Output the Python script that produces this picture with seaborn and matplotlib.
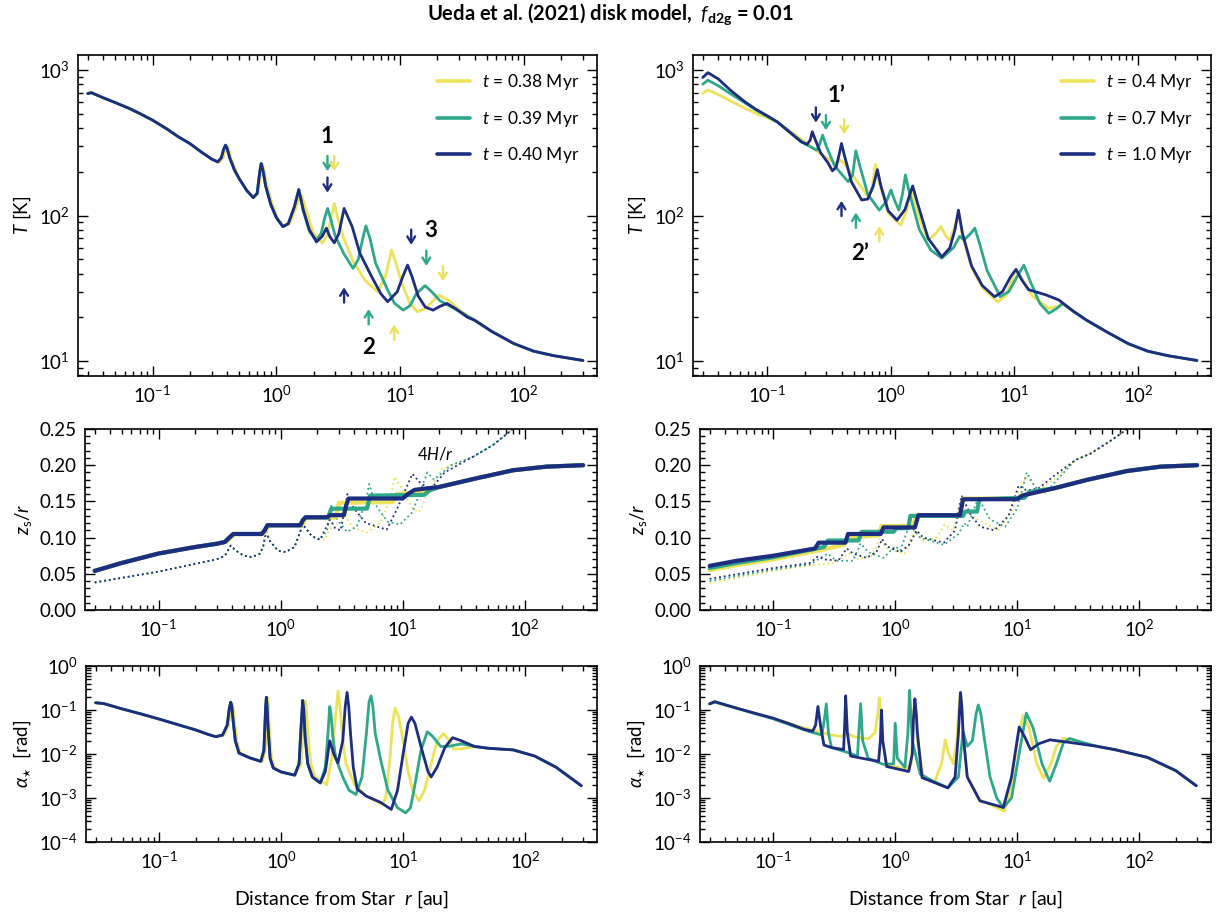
import matplotlib
matplotlib.use("Agg")
import numpy as np
import pandas as pd
import matplotlib.pyplot as plt
import seaborn as sns
from matplotlib.ticker import LogLocator, MultipleLocator, NullFormatter, FormatStrFormatter
from matplotlib.lines import Line2D
from matplotlib.transforms import offset_copy

# ---------------- data ----------------
LEG_LEFT = ["$t$ = 0.38 Myr", "$t$ = 0.39 Myr", "$t$ = 0.40 Myr"]
LEG_RIGHT = ["$t$ = 0.4 Myr", "$t$ = 0.7 Myr", "$t$ = 1.0 Myr"]

# Top-left: temperature T [K] vs r [au]
TL_START = [(0.030, 690), (0.032, 700), (0.04, 645), (0.05, 598), (0.065, 545), (0.08, 500),
            (0.10, 453), (0.13, 395), (0.16, 350), (0.20, 313), (0.25, 272), (0.30, 245)]
TL_INNER = [(0.336, 234), (0.36, 250), (0.375, 285), (0.389, 305), (0.40, 290), (0.42, 250),
            (0.46, 205), (0.50, 180), (0.58, 148), (0.651, 133), (0.70, 142), (0.735, 200),
            (0.755, 228), (0.78, 205), (0.82, 160), (0.90, 120), (1.00, 97), (1.13, 84),
            (1.25, 88), (1.40, 115), (1.52, 151)]
TL_TAIL = [(40.0, 19.1), (55.0, 16), (83.0, 13.2), (120.0, 11.7), (174.0, 10.9), (300.0, 10.1)]
TL_YEL = [(0.345, 232), (0.37, 248), (0.385, 280), (0.40, 300), (0.415, 285), (0.43, 245),
          (0.47, 205), (0.50, 180), (0.58, 148), (0.66, 133), (0.71, 142), (0.75, 195),
          (0.775, 225), (0.80, 200), (0.84, 160), (0.92, 122), (1.02, 96), (1.15, 84),
          (1.28, 88), (1.42, 110), (1.50, 125), (1.60, 138), (1.75, 108), (2.0, 75),
          (2.36, 64.6), (2.6, 75), (2.8, 100), (2.94, 121), (3.1, 100), (3.5, 70),
          (4.2, 48), (5.2, 36), (6.6, 30), (7.6, 38), (8.53, 58), (9.2, 48), (10.5, 33),
          (12.0, 25), (13.8, 21.8), (16.0, 23), (20.6, 28.4), (25.0, 26), (30.0, 22.5)]
TL_GRN = [(1.65, 108), (1.85, 78), (2.1, 68), (2.3, 75), (2.45, 95), (2.6, 112), (2.75, 95),
          (3.0, 72), (3.5, 55), (4.17, 43.4), (4.6, 50), (5.0, 70), (5.3, 85), (5.7, 70),
          (6.35, 47), (7.94, 30.8), (9.0, 25), (10.6, 22.4), (12.0, 24), (13.5, 29),
          (15.9, 33), (18.0, 30), (21.0, 26), (25.0, 24), (30.0, 22)]
TL_NAV = [(1.65, 110), (1.85, 80), (2.11, 66), (2.35, 72), (2.54, 82), (2.70, 72), (2.94, 65),
          (3.20, 75), (3.53, 112), (4.10, 84), (4.74, 55), (5.90, 38), (7.00, 29), (7.94, 25.6),
          (9.50, 30), (10.5, 38), (11.5, 45.7), (12.5, 38), (14.0, 28), (16.0, 23.5),
          (18.5, 22.4), (21.0, 23.8), (23.9, 24.9), (28.0, 23), (35.0, 20)]

# Top-right: temperature T [K]
TR_TAIL = [(38.0, 19.2), (55.0, 16), (83.0, 13.2), (120.0, 11.7), (174.0, 10.9), (300.0, 10.1)]
TR_YEL = [(0.030, 692), (0.033, 730), (0.04, 680), (0.05, 615), (0.065, 550), (0.08, 505),
          (0.10, 470), (0.12, 441), (0.16, 370), (0.20, 322), (0.25, 280), (0.30, 250),
          (0.36, 228), (0.39, 240), (0.42, 228), (0.50, 185), (0.60, 150), (0.65, 135),
          (0.70, 150), (0.75, 225), (0.80, 170), (0.95, 105), (1.2, 86), (1.35, 110),
          (1.44, 150), (1.6, 110), (2.0, 68), (2.3, 75), (2.54, 84), (2.8, 72), (3.0, 68),
          (3.3, 85), (3.52, 105), (3.8, 72), (4.5, 44), (5.5, 32), (7.3, 25.5), (8.5, 28),
          (9.5, 36), (10.3, 42), (11.5, 37), (14.0, 28), (19.0, 23), (22.0, 23.7),
          (25.0, 24.5), (30.0, 22)]
TR_GRN = [(0.030, 800), (0.033, 853), (0.04, 780), (0.05, 690), (0.065, 600), (0.08, 535),
          (0.10, 480), (0.12, 441), (0.16, 362), (0.20, 312), (0.25, 282), (0.265, 310),
          (0.28, 357), (0.30, 300), (0.35, 220), (0.45, 171), (0.49, 190), (0.52, 279),
          (0.56, 220), (0.65, 140), (0.805, 109), (0.92, 125), (1.00, 150), (1.08, 125),
          (1.16, 109), (1.24, 140), (1.31, 190), (1.42, 140), (1.7, 80), (2.1, 58),
          (2.58, 51), (3.2, 60), (3.6, 72), (3.9, 68), (4.4, 75), (4.78, 82), (5.2, 65),
          (6.0, 42), (7.67, 27.7), (9.0, 30), (10.5, 38), (11.9, 45.7), (13.5, 35),
          (16.0, 25), (19.0, 21.3), (22.0, 23), (24.5, 24.9), (30.0, 22)]
TR_NAV = [(0.030, 890), (0.033, 960), (0.04, 870), (0.05, 730), (0.065, 610), (0.08, 540),
          (0.10, 485), (0.12, 441), (0.16, 360), (0.188, 321), (0.21, 309), (0.222, 330),
          (0.231, 377), (0.245, 330), (0.27, 270), (0.31, 230), (0.336, 203), (0.36, 215),
          (0.38, 260), (0.398, 313), (0.42, 260), (0.48, 170), (0.58, 128), (0.65, 130),
          (0.72, 160), (0.777, 207), (0.83, 160), (0.95, 108), (1.12, 93), (1.30, 110),
          (1.50, 160), (1.65, 120), (2.0, 70), (2.58, 52), (3.0, 60), (3.3, 80), (3.52, 109),
          (3.8, 75), (4.5, 45), (5.5, 33), (6.9, 27.7), (8.0, 30), (9.3, 38), (10.3, 42.7),
          (11.5, 36), (13.0, 31), (14.2, 30.3), (18.0, 28.5), (22.9, 26.3), (30.0, 22)]

# Middle-left: z_s/r (solid) and 4H/r (dotted)
ML_INNER = [(0.030, 0.054), (0.05, 0.065), (0.10, 0.078), (0.20, 0.087), (0.30, 0.0915),
            (0.35, 0.094), (0.38, 0.100), (0.41, 0.105), (0.70, 0.105), (0.74, 0.110),
            (0.78, 0.117), (1.45, 0.117), (1.52, 0.124), (1.60, 0.128)]
ML_OUTER = [(20.0, 0.170), (38.0, 0.181), (80.0, 0.193), (150.0, 0.198), (300.0, 0.200)]
ML_YEL = [(0.030, 0.054), (0.05, 0.065), (0.10, 0.078), (0.20, 0.087), (0.30, 0.0915),
          (0.36, 0.094), (0.39, 0.100), (0.42, 0.105), (0.72, 0.105), (0.76, 0.110),
          (0.80, 0.117), (1.50, 0.117), (1.57, 0.124), (1.65, 0.128), (2.85, 0.128),
          (3.0, 0.148), (8.3, 0.149), (8.8, 0.160), (15.0, 0.163)]
ML_GRN = [(2.45, 0.128), (2.6, 0.140), (5.1, 0.140), (5.4, 0.158), (15.0, 0.159), (16.5, 0.165)]
ML_NAV = [(2.40, 0.128), (2.55, 0.131), (3.30, 0.131), (3.45, 0.145), (3.60, 0.154),
          (10.0, 0.154), (11.0, 0.160), (12.5, 0.166)]
ML_DOT_INNER = [(0.030, 0.038), (0.10, 0.053), (0.30, 0.070), (0.35, 0.075), (0.39, 0.089),
                (0.43, 0.082), (0.50, 0.075), (0.58, 0.073), (0.68, 0.078), (0.72, 0.088),
                (0.76, 0.108), (0.82, 0.095), (0.95, 0.082), (1.10, 0.080), (1.30, 0.087),
                (1.52, 0.118), (1.80, 0.102)]
ML_DOT_OUTER = [(38.0, 0.212), (55.0, 0.228), (80.0, 0.250), (120.0, 0.300)]
ML_DOT_YEL = [(2.3, 0.097), (2.7, 0.12), (2.94, 0.149), (3.3, 0.13), (4.0, 0.113), (5.1, 0.107),
              (6.5, 0.12), (7.8, 0.15), (8.6, 0.184), (10.0, 0.165), (12.0, 0.14), (13.5, 0.135),
              (16.0, 0.16), (21.0, 0.195)]
ML_DOT_GRN = [(2.1, 0.097), (2.4, 0.11), (2.6, 0.144), (2.9, 0.125), (3.5, 0.108), (4.2, 0.115),
              (5.0, 0.15), (5.3, 0.174), (6.0, 0.145), (7.5, 0.122), (9.5, 0.118), (12.0, 0.135),
              (14.0, 0.165), (15.9, 0.19), (18.0, 0.18), (25.0, 0.20)]
ML_DOT_NAV = [(2.10, 0.097), (2.54, 0.125), (2.80, 0.113), (3.10, 0.110), (3.53, 0.160),
              (4.0, 0.140), (5.0, 0.120), (7.4, 0.111), (9.0, 0.140), (12.0, 0.188),
              (14.0, 0.175), (17.0, 0.167), (22.0, 0.190)]

# Middle-right
MR_OUTER = [(20.0, 0.168), (38.0, 0.180), (80.0, 0.192), (150.0, 0.198), (300.0, 0.200)]
MR_YEL = [(0.030, 0.055), (0.05, 0.062), (0.10, 0.070), (0.25, 0.083), (0.38, 0.090),
          (0.42, 0.100), (0.73, 0.103), (0.77, 0.116), (1.40, 0.116), (1.48, 0.130),
          (3.4, 0.130), (3.6, 0.154), (10.0, 0.154), (11.0, 0.158)]
MR_GRN = [(0.030, 0.058), (0.05, 0.065), (0.10, 0.073), (0.26, 0.087), (0.28, 0.096),
          (0.50, 0.096), (0.53, 0.108), (0.97, 0.108), (1.02, 0.113), (1.28, 0.113),
          (1.33, 0.130), (3.6, 0.130), (3.75, 0.136), (4.7, 0.136), (4.9, 0.153),
          (11.5, 0.155), (12.5, 0.163)]
MR_NAV = [(0.030, 0.061), (0.05, 0.068), (0.10, 0.075), (0.22, 0.085), (0.235, 0.093),
          (0.39, 0.093), (0.41, 0.105), (0.76, 0.105), (0.80, 0.114), (1.45, 0.114),
          (1.55, 0.131), (3.4, 0.131), (3.6, 0.153), (10.0, 0.153), (11.0, 0.158)]
MR_DOT_OUTER = [(30.0, 0.207), (40.0, 0.216), (60.0, 0.235), (80.0, 0.250), (120.0, 0.300)]
MR_DOT_YEL = [(0.030, 0.037), (0.10, 0.054), (0.20, 0.062), (0.30, 0.064), (0.42, 0.078),
              (0.50, 0.070), (0.65, 0.075), (0.75, 0.100), (0.85, 0.085), (1.2, 0.078),
              (1.44, 0.110), (1.7, 0.095), (2.2, 0.100), (2.54, 0.118), (3.0, 0.110),
              (3.5, 0.158), (4.2, 0.130), (7.0, 0.110), (9.0, 0.135), (10.3, 0.165),
              (12.0, 0.185), (15.0, 0.165), (20.0, 0.180)]
MR_DOT_GRN = [(0.030, 0.040), (0.10, 0.056), (0.20, 0.063), (0.28, 0.078), (0.33, 0.068),
              (0.45, 0.068), (0.52, 0.092), (0.60, 0.080), (0.80, 0.072), (1.0, 0.088),
              (1.1, 0.082), (1.31, 0.118), (1.6, 0.100), (2.5, 0.090), (3.3, 0.105),
              (3.7, 0.120), (3.9, 0.115), (4.8, 0.155), (6.0, 0.125), (8.0, 0.115),
              (10.0, 0.140), (12.0, 0.190), (14.0, 0.170), (17.0, 0.162), (20.0, 0.175)]
MR_DOT_NAV = [(0.030, 0.043), (0.10, 0.058), (0.20, 0.065), (0.232, 0.074), (0.26, 0.070),
              (0.34, 0.068), (0.40, 0.085), (0.45, 0.078), (0.58, 0.072), (0.70, 0.080),
              (0.78, 0.098), (0.85, 0.088), (1.1, 0.080), (1.3, 0.090), (1.5, 0.110),
              (1.7, 0.100), (2.5, 0.093), (3.1, 0.110), (3.5, 0.158), (4.2, 0.130),
              (5.0, 0.115), (6.5, 0.110), (8.5, 0.130), (10.3, 0.172), (12.0, 0.165),
              (15.0, 0.168), (20.0, 0.185)]

# Bottom-left: alpha_* [rad]
BL_INNER = [(0.030, 0.146), (0.035, 0.14), (0.05, 0.105), (0.07, 0.082), (0.10, 0.062),
            (0.14, 0.047), (0.20, 0.035), (0.25, 0.028), (0.29, 0.0247), (0.33, 0.027),
            (0.36, 0.045), (0.375, 0.11), (0.385, 0.15), (0.393, 0.12), (0.405, 0.05),
            (0.42, 0.02), (0.45, 0.0105), (0.55, 0.0082), (0.68, 0.0068), (0.72, 0.012),
            (0.745, 0.12), (0.755, 0.195), (0.765, 0.12), (0.78, 0.04), (0.81, 0.008),
            (0.86, 0.0048), (1.0, 0.0039), (1.29, 0.0033), (1.40, 0.006), (1.46, 0.05),
            (1.50, 0.164), (1.53, 0.1), (1.57, 0.025), (1.65, 0.006), (1.8, 0.003),
            (2.09, 0.0022)]
BL_TAIL = [(50.0, 0.0135), (80.0, 0.0124), (120.0, 0.009), (180.0, 0.005), (290.0, 0.0019)]
BL_YEL = [(0.030, 0.146), (0.035, 0.14), (0.05, 0.105), (0.07, 0.082), (0.10, 0.062),
          (0.14, 0.047), (0.20, 0.035), (0.25, 0.028), (0.30, 0.0245), (0.34, 0.027),
          (0.37, 0.045), (0.385, 0.1), (0.395, 0.14), (0.403, 0.11), (0.415, 0.05),
          (0.43, 0.02), (0.46, 0.0105), (0.56, 0.0082), (0.70, 0.0068), (0.74, 0.012),
          (0.765, 0.12), (0.775, 0.19), (0.785, 0.12), (0.80, 0.04), (0.83, 0.008),
          (0.88, 0.0048), (1.0, 0.0039), (1.3, 0.0033), (1.45, 0.006), (1.53, 0.05),
          (1.58, 0.16), (1.61, 0.1), (1.66, 0.025), (1.75, 0.006), (1.9, 0.003),
          (2.1, 0.0025), (2.36, 0.002), (2.6, 0.008), (2.8, 0.08), (2.93, 0.275),
          (3.05, 0.1), (3.2, 0.02), (3.4, 0.006), (4.0, 0.002), (5.0, 0.0011),
          (6.8, 0.00072), (7.2, 0.001), (7.8, 0.008), (8.2, 0.05), (8.6, 0.11), (9.2, 0.07),
          (10.0, 0.02), (11.0, 0.004), (12.0, 0.0015), (13.5, 0.00086), (15.0, 0.0015),
          (17.0, 0.006), (19.0, 0.02), (21.5, 0.029), (24.0, 0.02), (26.0, 0.013),
          (30.0, 0.013), (38.5, 0.0148)]
BL_GRN = [(2.3, 0.005), (2.42, 0.03), (2.5, 0.12), (2.56, 0.08), (2.65, 0.025), (2.8, 0.008),
          (3.2, 0.003), (3.6, 0.0015), (4.1, 0.0012), (4.6, 0.003), (5.0, 0.03), (5.25, 0.15),
          (5.45, 0.21), (5.65, 0.12), (5.9, 0.03), (6.5, 0.008), (7.5, 0.0015), (9.0, 0.0006),
          (10.5, 0.00046), (11.5, 0.0006), (12.5, 0.002), (14.0, 0.012), (15.8, 0.032),
          (17.5, 0.025), (20.4, 0.0148), (24.0, 0.015), (30.0, 0.017), (38.5, 0.015)]
BL_NAV = [(2.3, 0.004), (2.5, 0.02), (2.7, 0.01), (2.92, 0.0063), (3.2, 0.02), (3.35, 0.12),
          (3.47, 0.25), (3.58, 0.12), (3.7, 0.03), (3.9, 0.005), (4.2, 0.0016), (5.0, 0.0011),
          (6.5, 0.0008), (8.0, 0.00055), (9.0, 0.0015), (10.0, 0.01), (11.0, 0.05),
          (11.7, 0.069), (12.5, 0.05), (14.0, 0.015), (16.0, 0.004), (17.0, 0.003),
          (19.0, 0.005), (22.0, 0.014), (25.5, 0.0235), (30.0, 0.02), (38.5, 0.0148)]

# Bottom-right: alpha_* [rad]
BR_TAIL = [(64.0, 0.0125), (117.0, 0.0084), (200.0, 0.0042), (295.0, 0.0019)]
BR_YEL = [(0.030, 0.138), (0.033, 0.15), (0.05, 0.11), (0.07, 0.085), (0.10, 0.065),
          (0.14, 0.048), (0.20, 0.036), (0.30, 0.027), (0.36, 0.025), (0.40, 0.03),
          (0.45, 0.025), (0.60, 0.022), (0.68, 0.03), (0.72, 0.08), (0.74, 0.19), (0.77, 0.03),
          (0.85, 0.006), (1.2, 0.0045), (1.35, 0.006), (1.41, 0.06), (1.44, 0.15), (1.48, 0.07),
          (1.52, 0.02), (1.7, 0.003), (2.1, 0.0023), (2.4, 0.006), (2.57, 0.021), (2.75, 0.01),
          (3.0, 0.006), (3.2, 0.02), (3.33, 0.12), (3.43, 0.25), (3.52, 0.12), (3.65, 0.02),
          (3.9, 0.003), (5.0, 0.0009), (7.9, 0.0005), (9.0, 0.002), (10.0, 0.02), (11.2, 0.075),
          (12.5, 0.04), (14.5, 0.006), (16.5, 0.0028), (19.0, 0.006), (21.0, 0.015),
          (24.0, 0.023), (30.0, 0.019), (45.0, 0.015)]
BR_GRN = [(0.030, 0.138), (0.033, 0.152), (0.05, 0.11), (0.07, 0.083), (0.10, 0.063),
          (0.14, 0.045), (0.20, 0.032), (0.25, 0.027), (0.262, 0.06), (0.272, 0.138),
          (0.283, 0.03), (0.30, 0.014), (0.40, 0.011), (0.49, 0.009), (0.505, 0.04),
          (0.52, 0.14), (0.54, 0.02), (0.60, 0.008), (0.80, 0.0058), (0.97, 0.006),
          (1.0, 0.05), (1.04, 0.008), (1.2, 0.005), (1.27, 0.03), (1.31, 0.28), (1.38, 0.02),
          (1.6, 0.0035), (2.0, 0.0025), (2.7, 0.0017), (3.3, 0.003), (3.6, 0.033), (3.9, 0.015),
          (4.3, 0.02), (4.6, 0.08), (4.8, 0.13), (5.05, 0.08), (5.3, 0.03), (6.0, 0.003),
          (6.8, 0.001), (7.7, 0.0006), (9.0, 0.001), (10.5, 0.012), (11.9, 0.085),
          (13.5, 0.04), (16.0, 0.006), (18.5, 0.0024), (21.0, 0.006), (24.0, 0.018),
          (27.0, 0.0225), (33.0, 0.019), (45.0, 0.015)]
BR_NAV = [(0.030, 0.138), (0.033, 0.155), (0.05, 0.11), (0.07, 0.085), (0.10, 0.065),
          (0.14, 0.047), (0.18, 0.036), (0.21, 0.033), (0.222, 0.045), (0.232, 0.12),
          (0.245, 0.04), (0.26, 0.016), (0.30, 0.014), (0.377, 0.0126), (0.385, 0.05),
          (0.392, 0.21), (0.405, 0.03), (0.43, 0.009), (0.60, 0.0075), (0.73, 0.0068),
          (0.755, 0.02), (0.772, 0.1), (0.79, 0.02), (0.85, 0.0052), (1.29, 0.004),
          (1.38, 0.01), (1.41, 0.06), (1.45, 0.18), (1.49, 0.08), (1.52, 0.03), (1.66, 0.0029),
          (2.7, 0.0017), (3.1, 0.003), (3.3, 0.03), (3.43, 0.25), (3.52, 0.12), (3.6, 0.03),
          (3.9, 0.003), (4.95, 0.00086), (7.7, 0.00061), (9.0, 0.003), (10.4, 0.041),
          (11.5, 0.025), (12.9, 0.0125), (15.0, 0.017), (18.6, 0.021), (31.0, 0.0174),
          (45.0, 0.015)]

# annotation arrows (r, T, direction, series index) and labels
TL_ARROWS = [(2.59, 228, "down", 1), (2.94, 228, "down", 0), (2.59, 162, "down", 2),
             (12.3, 71, "down", 2), (16.3, 50.8, "down", 1), (22.2, 40, "down", 0),
             (3.53, 28.5, "up", 2), (5.57, 20.2, "up", 1), (8.97, 15.8, "up", 0)]
TL_LABELS = [(2.59, 348, "1"), (17.8, 79, "3"), (5.57, 12.5, "2")]
TR_ARROWS = [(0.247, 491, "down", 2), (0.298, 435, "down", 1), (0.419, 408, "down", 0),
             (0.398, 112, "up", 2), (0.521, 93, "up", 1), (0.806, 75, "up", 0)]
TR_LABELS = [(0.362, 673, "1\u2019"), (0.56, 55, "2\u2019")]

# ---------------- style ----------------
COLORS = ["#ECE35A", "#2EA889", "#1D2D7F"]

sns.set_theme(style="ticks")
plt.rcParams.update({
    "font.family": ["Lato", "DejaVu Sans"],
    "mathtext.fontset": "custom",
    "mathtext.rm": "Lato",
    "mathtext.it": "Lato:italic",
    "mathtext.bf": "Lato:bold",
    "font.size": 12,
    "axes.linewidth": 1.2,
    "axes.edgecolor": "black",
    "xtick.color": "black",
    "ytick.color": "black",
    "text.color": "black",
    "axes.labelcolor": "black",
})

W, H = 1221, 917
fig = plt.figure(figsize=(W / 100, H / 100), dpi=100)


def add_ax(x0, x1, y0, y1):
    return fig.add_axes([x0 / W, 1 - y1 / H, (x1 - x0) / W, (y1 - y0) / H])


def draw(ax, pts, color, lw=2.0, ls="-"):
    r, v = zip(*pts)
    df = pd.DataFrame({"r": r, "v": v})
    sns.lineplot(data=df, x="r", y="v", ax=ax, color=color, lw=lw, linestyle=ls,
                 estimator=None, sort=False, legend=False)


def style_ax(ax, ylog=True, ylim=None, ylabel=""):
    ax.set_xscale("log")
    ax.set_xlim(0.025, 390)
    if ylog:
        ax.set_yscale("log")
        ax.yaxis.set_major_locator(LogLocator(base=10, numticks=20))
        ax.yaxis.set_minor_locator(LogLocator(base=10, subs=np.arange(2, 10), numticks=100))
        ax.yaxis.set_minor_formatter(NullFormatter())
    else:
        ax.yaxis.set_major_locator(MultipleLocator(0.05))
        ax.yaxis.set_minor_locator(MultipleLocator(0.01))
        ax.yaxis.set_major_formatter(FormatStrFormatter("%.2f"))
    ax.set_ylim(*ylim)
    ax.xaxis.set_major_locator(LogLocator(base=10, numticks=20))
    ax.xaxis.set_minor_locator(LogLocator(base=10, subs=np.arange(2, 10), numticks=100))
    ax.xaxis.set_minor_formatter(NullFormatter())
    ax.tick_params(which="both", direction="in", top=True, right=True, width=1.0,
                   labelsize=13.5, pad=6)
    ax.tick_params(which="major", length=7)
    ax.tick_params(which="minor", length=3.5)
    ax.set_xlabel("")
    ax.set_ylabel(ylabel, fontsize=13.5)
    for s in ax.spines.values():
        s.set_visible(True)


def arrows(ax, arrs, labels):
    for r, t, d, ci in arrs:
        s = -1 if d == "down" else 1
        tip = offset_copy(ax.transData, fig=fig, x=0, y=s * 5.5, units="points")
        tail = offset_copy(ax.transData, fig=fig, x=0, y=-s * 5.5, units="points")
        ax.annotate("", xy=(r, t), xycoords=tip, xytext=(r, t), textcoords=tail,
                    arrowprops=dict(arrowstyle="->,head_length=0.45,head_width=0.28",
                                    color=COLORS[ci], lw=1.7, shrinkA=0, shrinkB=0,
                                    mutation_scale=10))
    for r, t, s in labels:
        ax.text(r, t, s, fontsize=16, fontweight="bold", ha="center", va="center",
                family=["Lato", "DejaVu Sans"])


def legend(ax, labels):
    handles = [Line2D([], [], color=c, lw=2.6) for c in COLORS]
    ax.legend(handles, labels, loc="upper right", frameon=False, fontsize=12.5,
              handlelength=1.9, handletextpad=0.7, labelspacing=0.95,
              borderaxespad=0.6)


# ---------------- panels ----------------
axTL = add_ax(78, 597, 55, 376)
axTR = add_ax(693, 1211, 55, 376)
axML = add_ax(85, 597, 429, 610)
axMR = add_ax(700, 1211, 429, 610)
axBL = add_ax(86, 597, 666, 842)
axBR = add_ax(700, 1211, 666, 842)

# top left
draw(axTL, TL_START + TL_YEL + TL_TAIL, COLORS[0])
draw(axTL, TL_START + TL_INNER + TL_GRN + TL_TAIL, COLORS[1])
draw(axTL, TL_START + TL_INNER + TL_NAV + TL_TAIL, COLORS[2])
style_ax(axTL, True, (7.9, 1270), "$T$ [K]")
arrows(axTL, TL_ARROWS, TL_LABELS)
legend(axTL, LEG_LEFT)

# top right
draw(axTR, TR_YEL + TR_TAIL, COLORS[0])
draw(axTR, TR_GRN + TR_TAIL, COLORS[1])
draw(axTR, TR_NAV + TR_TAIL, COLORS[2])
style_ax(axTR, True, (7.9, 1270), "$T$ [K]")
arrows(axTR, TR_ARROWS, TR_LABELS)
legend(axTR, LEG_RIGHT)

# middle left
draw(axML, ML_DOT_INNER + ML_DOT_YEL + ML_DOT_OUTER, COLORS[0], lw=1.3, ls=":")
draw(axML, ML_DOT_INNER + ML_DOT_GRN + ML_DOT_OUTER, COLORS[1], lw=1.3, ls=":")
draw(axML, ML_DOT_INNER + ML_DOT_NAV + ML_DOT_OUTER, COLORS[2], lw=1.3, ls=":")
draw(axML, ML_YEL + ML_OUTER, COLORS[0], lw=3.0)
draw(axML, ML_INNER + ML_GRN + ML_OUTER, COLORS[1], lw=3.0)
draw(axML, ML_INNER + ML_NAV + ML_OUTER, COLORS[2], lw=3.0)
style_ax(axML, False, (0, 0.25), "$z_{\\rm s}/r$")
axML.text(13.0, 0.216, "4$H$/$r$", fontsize=12, ha="left", va="center")

# middle right
draw(axMR, MR_DOT_YEL + MR_DOT_OUTER, COLORS[0], lw=1.3, ls=":")
draw(axMR, MR_DOT_GRN + MR_DOT_OUTER, COLORS[1], lw=1.3, ls=":")
draw(axMR, MR_DOT_NAV + MR_DOT_OUTER, COLORS[2], lw=1.3, ls=":")
draw(axMR, MR_YEL + MR_OUTER, COLORS[0], lw=3.0)
draw(axMR, MR_GRN + MR_OUTER, COLORS[1], lw=3.0)
draw(axMR, MR_NAV + MR_OUTER, COLORS[2], lw=3.0)
style_ax(axMR, False, (0, 0.25), "$z_{\\rm s}/r$")

# bottom left
draw(axBL, BL_YEL + BL_TAIL, COLORS[0])
draw(axBL, BL_INNER + BL_GRN + BL_TAIL, COLORS[1])
draw(axBL, BL_INNER + BL_NAV + BL_TAIL, COLORS[2])
style_ax(axBL, True, (1e-4, 1), "$\\alpha_{\\star}$  [rad]")

# bottom right
draw(axBR, BR_YEL + BR_TAIL, COLORS[0])
draw(axBR, BR_GRN + BR_TAIL, COLORS[1])
draw(axBR, BR_NAV + BR_TAIL, COLORS[2])
style_ax(axBR, True, (1e-4, 1), "$\\alpha_{\\star}$  [rad]")

for ax in (axBL, axBR):
    ax.set_xlabel("Distance from Star  $r$ [au]", fontsize=14, labelpad=12)

fig.text(0.5, 1 - 14 / H, "Ueda et al. (2021) disk model,  $f_{\\mathbf{d2g}}$ = 0.01",
         ha="center", va="center", fontsize=14.5, fontweight="bold")

fig.savefig("out.png", dpi=100)
